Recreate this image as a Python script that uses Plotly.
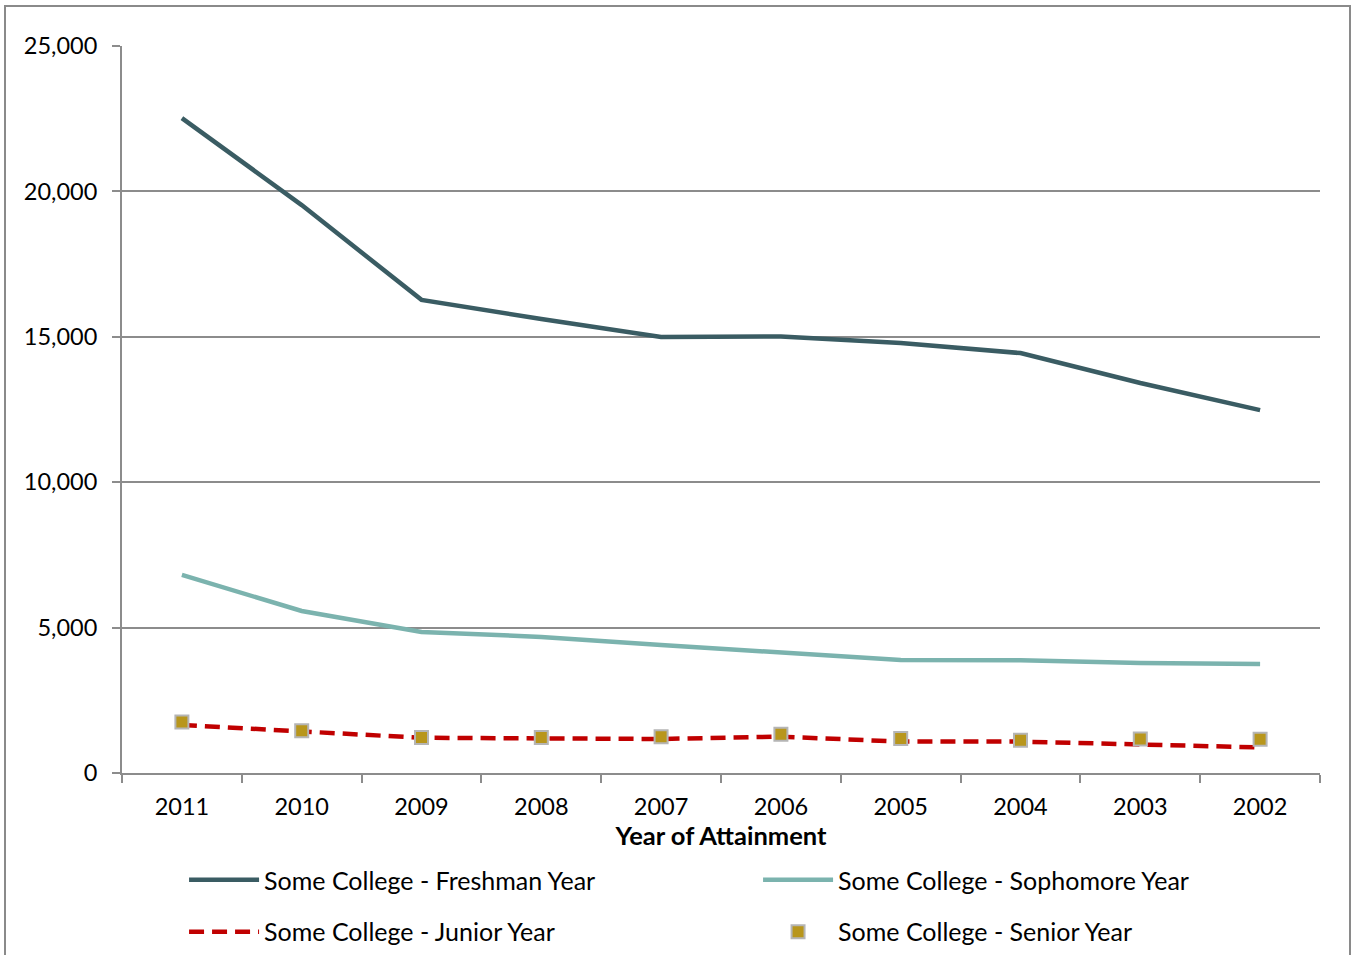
import plotly.graph_objects as go

# Year of attainment (categories, newest first)
years = ["2011", "2010", "2009", "2008", "2007", "2006", "2005", "2004", "2003", "2002"]

# Counts by highest year of college completed
freshman = [22520, 19530, 16270, 15610, 14990, 15010, 14790, 14440, 13410, 12480]
sophomore = [6810, 5570, 4850, 4680, 4400, 4160, 3890, 3880, 3780, 3750]
junior = [1650, 1420, 1210, 1190, 1170, 1250, 1080, 1080, 990, 880]
senior = [1750, 1450, 1220, 1220, 1250, 1330, 1190, 1130, 1170, 1160]

y_ticks = [0, 5000, 10000, 15000, 20000, 25000]

FONT = "Lato"
SIZE = 23.5
GRID = "#8c8c8c"

fig = go.Figure()
fig.add_trace(go.Scatter(
    x=years, y=freshman, mode="lines", name="Some College - Freshman Year",
    line=dict(color="#3A5C63", width=4.5), legend="legend",
))
fig.add_trace(go.Scatter(
    x=years, y=sophomore, mode="lines", name="Some College - Sophomore Year",
    line=dict(color="#7BB3AE", width=4.5), legend="legend",
))
fig.add_trace(go.Scatter(
    x=years, y=junior, mode="lines", name="Some College - Junior Year",
    line=dict(color="#C00000", width=4.5, dash="15px,8px"), legend="legend2",
))
fig.add_trace(go.Scatter(
    x=years, y=senior, mode="markers", name="Some College - Senior Year",
    marker=dict(symbol="square", size=13, color="#B8961C",
                line=dict(color="#B5B5B5", width=2)),
    legend="legend2",
))

legend_common = dict(
    orientation="h", x=0.0518, xanchor="left", yanchor="middle",
    entrywidth=489, entrywidthmode="pixels", itemwidth=70,
    font=dict(family=FONT, size=25), traceorder="normal",
    bgcolor="rgba(0,0,0,0)", borderwidth=0,
)

fig.update_layout(
    width=1354, height=955,
    margin=dict(l=122, r=34, t=46, b=182, autoexpand=False),
    paper_bgcolor="white", plot_bgcolor="white",
    font=dict(family=FONT, size=SIZE, color="#000000"),
    showlegend=True,
    legend=dict(legend_common, y=-0.1472),
    legend2=dict(legend_common, y=-0.2187),
    shapes=[dict(
        type="rect", xref="paper", yref="paper",
        x0=-117 / 1198, x1=1228 / 1198, y0=-0.28, y1=767 / 727,
        line=dict(color="#8a8a8a", width=2), fillcolor="rgba(0,0,0,0)", layer="below",
    )],
)

fig.update_xaxes(
    type="category", range=[-0.5, len(years) - 0.5],
    showgrid=False, showline=True, linecolor=GRID, linewidth=2,
    ticks="outside", tickson="boundaries", ticklen=8, tickcolor=GRID, tickwidth=2,
    ticklabelstandoff=12,
    title=dict(text="<b>Year of Attainment</b>", font=dict(family=FONT, size=25.5), standoff=5),
)
fig.update_yaxes(
    range=[0, 25000], tickvals=y_ticks, tickformat=",",
    showgrid=True, gridcolor=GRID, gridwidth=1.5,
    showline=True, linecolor=GRID, linewidth=2,
    ticks="outside", ticklen=8, tickcolor=GRID, tickwidth=2,
    ticklabelstandoff=10, zeroline=False,
)

fig.write_html("out.html")
